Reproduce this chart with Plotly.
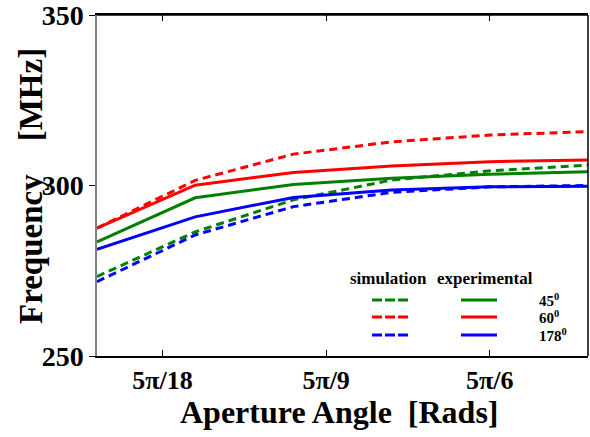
import math
import plotly.graph_objects as go

# angles in degrees (converted to radians for the x axis)
angles_deg = [30, 60, 90, 120, 150, 180]

exp_45 = [283.5, 296.4, 300.3, 302.1, 303.3, 304.0]
exp_60 = [287.5, 300.1, 303.8, 305.7, 307.0, 307.5]
exp_178 = [281.3, 290.8, 296.5, 298.7, 299.6, 299.8]

sim_45 = [273.3, 286.4, 295.8, 301.6, 304.3, 306.0]
sim_60 = [287.5, 301.5, 309.2, 312.8, 314.8, 315.8]
sim_178 = [271.8, 285.5, 293.8, 298.0, 299.6, 300.0]

tick_vals = [5 * math.pi / 18, 5 * math.pi / 9, 5 * math.pi / 6]
tick_text = ["5π/18", "5π/9", "5π/6"]
y_ticks = [250, 300, 350]

legend_labels = ["45<sup>0</sup>", "60<sup>0</sup>", "178<sup>0</sup>"]

x = [d * math.pi / 180 for d in angles_deg]

GREEN = "#008000"
RED = "#ff0000"
BLUE = "#0000ff"
FONT = "Liberation Serif, Times New Roman, serif"

fig = go.Figure()
series = [
    (sim_45, GREEN, "8px,5px"), (sim_178, BLUE, "8px,5px"), (sim_60, RED, "8px,5px"),
    (exp_45, GREEN, "solid"), (exp_178, BLUE, "solid"), (exp_60, RED, "solid"),
]
for ys, col, dash in series:
    fig.add_trace(go.Scatter(x=x, y=ys, mode="lines",
                             line=dict(color=col, width=3, dash=dash),
                             showlegend=False))

fig.update_layout(
    width=590, height=437,
    margin=dict(l=97, r=2, t=15, b=81),
    paper_bgcolor="white", plot_bgcolor="white",
    font=dict(family=FONT, color="black"),
    xaxis=dict(range=[math.pi / 6, math.pi], tickvals=tick_vals, ticktext=tick_text,
               ticks="inside", ticklen=6, tickcolor="black", showgrid=False, zeroline=False,
               showline=True, linecolor="black", linewidth=1.5, mirror="ticks",
               automargin=False, ticklabeloverflow="allow",
               tickfont=dict(family=FONT, size=26, color="black", weight="bold")),
    yaxis=dict(range=[250, 350], tickvals=y_ticks, ticktext=[str(v) for v in y_ticks],
               ticks="outside", ticklen=6, tickcolor="black", showgrid=False, zeroline=False,
               showline=True, linecolor="#808080", linewidth=1.5, automargin=False,
               ticklabeloverflow="allow",
               tickfont=dict(family=FONT, size=28, color="black", weight="bold")),
)

# right and top borders
fig.add_shape(type="line", xref="paper", yref="paper", x0=1, x1=1, y0=0, y1=1,
              line=dict(color="black", width=1.5))
fig.add_shape(type="line", xref="paper", yref="paper", x0=0, x1=1, y0=1, y1=1,
              line=dict(color="black", width=1.5))

pw, ph = 491, 341
def px_x(p):
    return (p - 97) / pw
def px_y(p):
    return (356 - p) / ph

# axis titles
fig.add_annotation(x=px_x(339), y=px_y(412), xref="paper", yref="paper",
                   xanchor="center", yanchor="middle",
                   text="Aperture Angle\u00a0\u00a0[Rads]", showarrow=False,
                   font=dict(family=FONT, size=32, color="black", weight="bold"))
fig.add_annotation(x=px_x(31), y=px_y(186), xref="paper", yref="paper", textangle=-90,
                   xanchor="center", yanchor="middle",
                   text="Frequency\u00a0\u00a0\u00a0\u00a0[MHz]", showarrow=False,
                   font=dict(family=FONT, size=33, color="black", weight="bold"))

# custom legend
fig.add_annotation(x=px_x(348), y=px_y(278), xref="paper", yref="paper", text="simulation",
                   xanchor="left", yanchor="middle", showarrow=False,
                   font=dict(family=FONT, size=17, color="black", weight="bold"))
fig.add_annotation(x=px_x(435), y=px_y(278), xref="paper", yref="paper", text="experimental",
                   xanchor="left", yanchor="middle", showarrow=False,
                   font=dict(family=FONT, size=17, color="black", weight="bold"))
rows_y = [300, 317, 335]
for ry, col, lab in zip(rows_y, [GREEN, RED, BLUE], legend_labels):
    fig.add_shape(type="line", xref="paper", yref="paper", x0=px_x(372), x1=px_x(408),
                  y0=px_y(ry), y1=px_y(ry), line=dict(color=col, width=3, dash="10px,3px"))
    fig.add_shape(type="line", xref="paper", yref="paper", x0=px_x(461), x1=px_x(497),
                  y0=px_y(ry), y1=px_y(ry), line=dict(color=col, width=3))
    fig.add_annotation(x=px_x(537), y=px_y(ry), xref="paper", yref="paper", text=lab,
                       xanchor="left", yanchor="middle", showarrow=False,
                       font=dict(family=FONT, size=15, color="black", weight="bold"))

fig.write_html("out.html", config={"displayModeBar": False},
               post_script="document.body.style.margin='0px';")
